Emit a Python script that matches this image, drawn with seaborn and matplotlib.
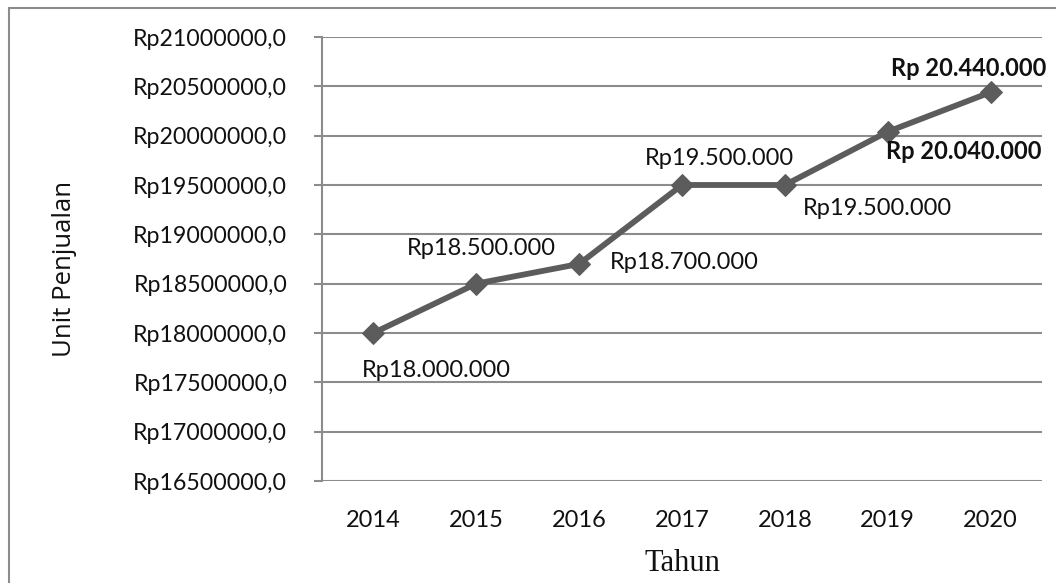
import matplotlib
matplotlib.use("Agg")
import matplotlib.pyplot as plt
import seaborn as sns
import pandas as pd
from matplotlib.patches import Rectangle

# Sales data per year
years = ["2014", "2015", "2016", "2017", "2018", "2019", "2020"]
sales = [18000000, 18500000, 18700000, 19500000, 19500000, 20040000, 20440000]
labels = ["Rp18.000.000", "Rp18.500.000", "Rp18.700.000", "Rp19.500.000",
          "Rp19.500.000", "Rp 20.040.000", "Rp 20.440.000"]
bold = [False, False, False, False, False, True, True]
y_ticks = [16500000 + 500000 * i for i in range(10)]

sns.set_theme(style="white")
plt.rcParams["font.family"] = ["Lato", "DejaVu Sans"]

df = pd.DataFrame({"Tahun": years, "Penjualan": sales})

fig = plt.figure(figsize=(10.56, 5.83), dpi=100)
ax = fig.add_axes([322 / 1056, 1 - 481 / 583, (1042 - 322) / 1056, (481 - 37) / 583])

grid_c = "#8c8c8c"
line_c = "#5c5c5c"
text_c = "#111111"

sns.lineplot(data=df, x="Tahun", y="Penjualan", ax=ax, color=line_c,
             linewidth=4.2, marker="D", markersize=11, markeredgecolor=line_c,
             sort=False)

ax.set_xlim(-0.5, len(years) - 0.5)
ax.set_ylim(16500000, 21000000)
ax.set_yticks(y_ticks)
ax.set_yticklabels([f"Rp{v},0" for v in y_ticks])
for v in y_ticks:
    ax.axhline(v, color=grid_c, linewidth=1.5, zorder=0)

for s in ["top", "right", "bottom"]:
    ax.spines[s].set_visible(False)
ax.spines["left"].set_color(grid_c)
ax.spines["left"].set_linewidth(1.5)
ax.tick_params(axis="y", which="both", left=True, length=6, width=1.5,
               color=grid_c, pad=19, labelsize=16.7, labelcolor=text_c)
ax.tick_params(axis="x", bottom=False, length=0, pad=21, labelsize=17,
               labelcolor=text_c)

ax.set_xlabel("Tahun", fontsize=22, family="Liberation Serif", color=text_c,
              labelpad=13)
ax.set_ylabel("Unit Penjualan", fontsize=18.5, family=["Open Sans", "DejaVu Sans"],
              color=text_c, labelpad=0)
ax.yaxis.set_label_coords((77 - 322) / 720, (481 - 269) / 444)

# label offsets (points) relative to each marker
offsets = [(45, -27), (4, 25), (76, 1), (27, 19), (67, -17), (55, -14), (-16, 17)]
for i, (val, txt, b, off) in enumerate(zip(sales, labels, bold, offsets)):
    ax.annotate(txt, xy=(i, val), xytext=off, textcoords="offset points",
                ha="center", va="center", fontsize=17, color=text_c,
                fontweight="bold" if b else "normal", annotation_clip=False)

# outer chart frame
fig.patches.append(Rectangle((9 / 1056, -0.05), 1.1, 1 - 8 / 583 + 0.05,
                             transform=fig.transFigure, fill=False,
                             edgecolor="#8c8c8c", linewidth=1.5))

fig.savefig("out.png", dpi=100)
